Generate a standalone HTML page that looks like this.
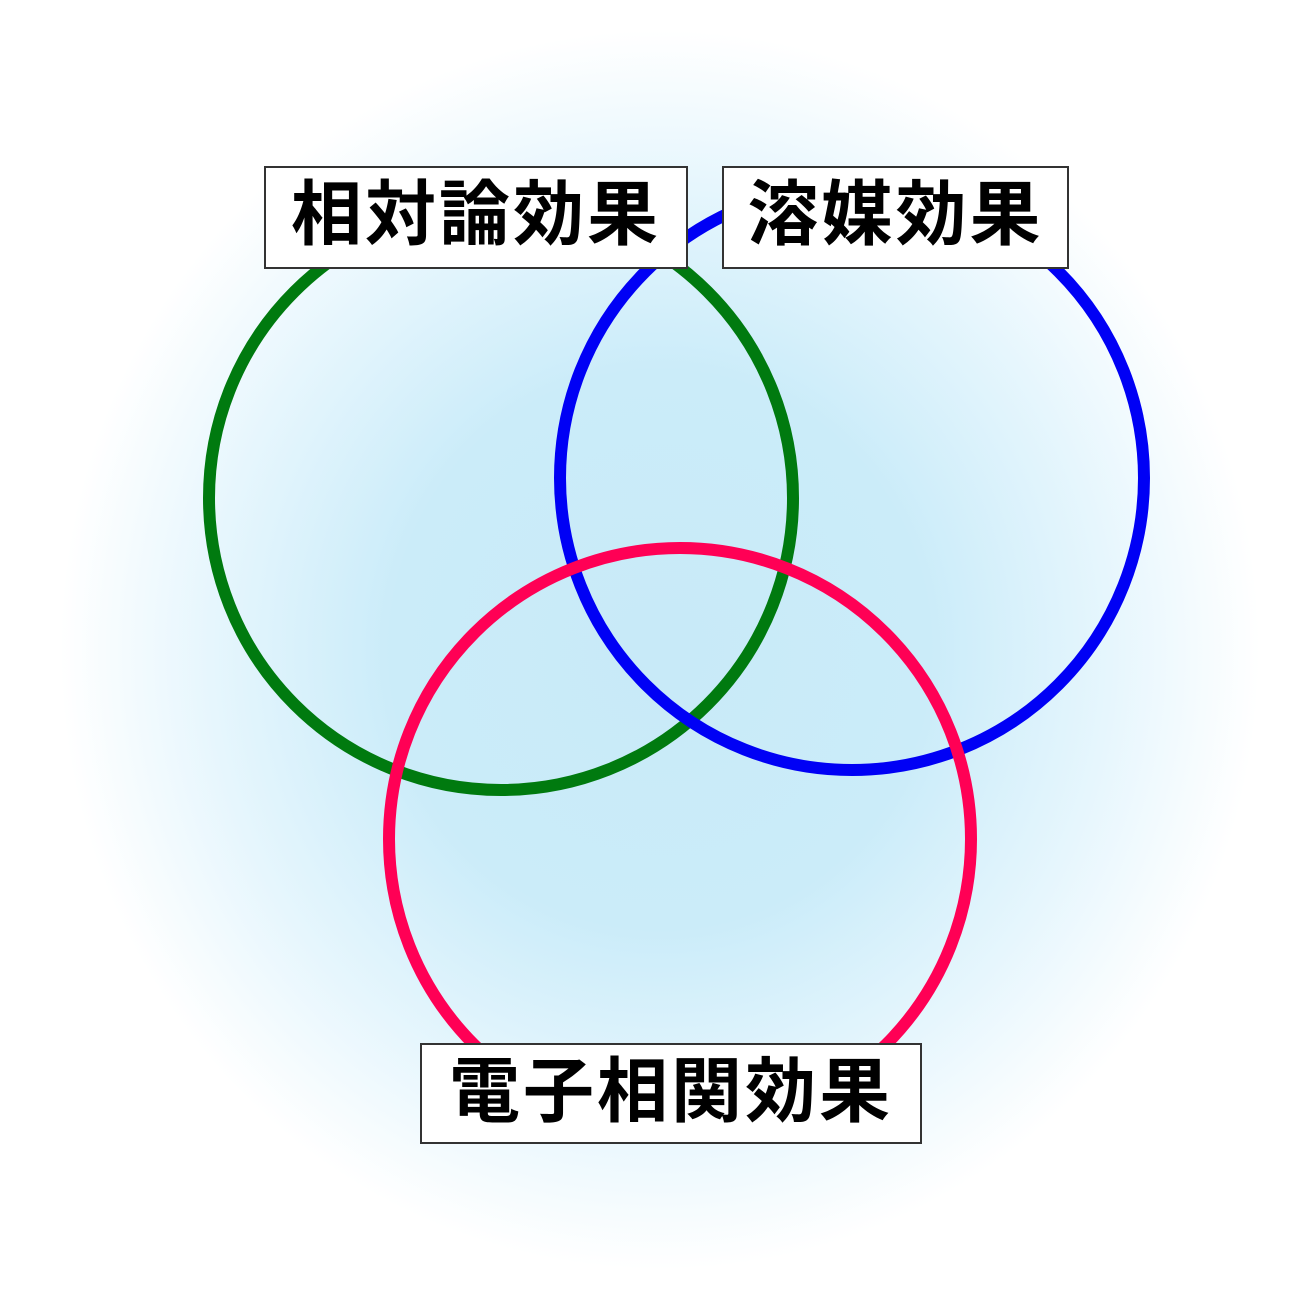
<!DOCTYPE html>
<html><head><meta charset="utf-8"><style>
html,body{margin:0;padding:0;background:#fff}
#c{position:relative;width:1310px;height:1310px;overflow:hidden;
background:radial-gradient(ellipse 600px 620px at 660px 650px,#c8eaf8 0%,#cbecf9 45%,#e6f6fd 75%,#ffffff 100%);}
.lb{position:absolute;background:#fff;border:2px solid #333;box-sizing:border-box;
font-family:"Liberation Sans","Noto Sans CJK JP",sans-serif;font-weight:bold;font-size:71px;
line-height:96px;text-align:center;color:#000;letter-spacing:3px;white-space:nowrap}
</style></head><body><div id="c">
<svg width="1310" height="1310" style="position:absolute;left:0;top:0">
<circle cx="501" cy="498" r="292" fill="none" stroke="#007a0f" stroke-width="12"/>
<circle cx="852" cy="478" r="292" fill="none" stroke="#0000f5" stroke-width="12"/>
<circle cx="680" cy="839" r="291" fill="none" stroke="#ff0055" stroke-width="12"/>
</svg>
<div class="lb" style="left:264px;top:166px;width:424px;height:103px">相対論効果</div>
<div class="lb" style="left:722px;top:166px;width:347px;height:103px">溶媒効果</div>
<div class="lb" style="left:420px;top:1043px;width:502px;height:101px">電子相関効果</div>
</div></body></html>
